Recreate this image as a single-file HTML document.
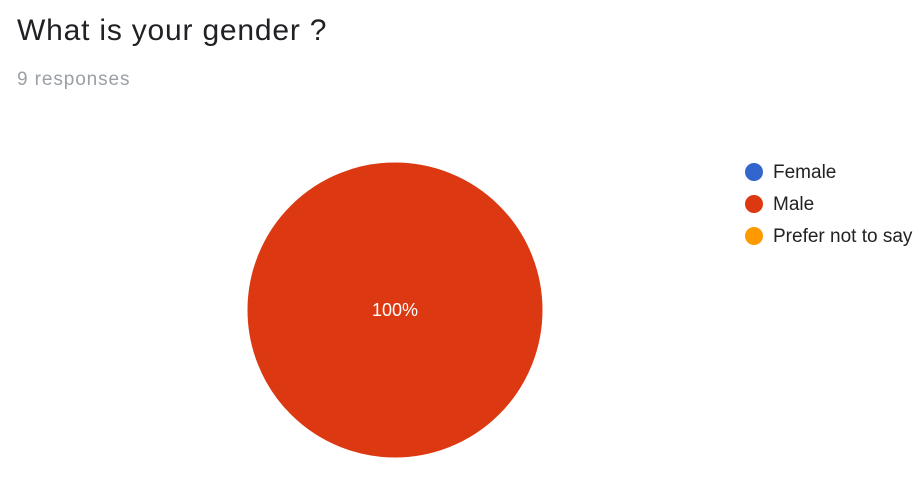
<!DOCTYPE html>
<html><head><meta charset="utf-8"><style>
body{margin:0;width:923px;height:493px;background:#fff;overflow:hidden;font-family:"Liberation Sans",sans-serif;position:relative}
#title{position:absolute;left:17px;top:14px;font-size:30px;color:#202124;font-weight:300;letter-spacing:0.8px}
#sub{position:absolute;left:17px;top:69px;font-size:19px;color:#9aa0a6;letter-spacing:0.9px}
svg{position:absolute;left:0;top:0}
</style></head><body>
<div id="title">What is your gender ?</div>
<div id="sub">9 responses</div>
<svg id="chart" width="923" height="493"></svg>
<script>
const categories=["Female","Male","Prefer not to say"];
const values=[0,9,0];
const colors=["#3366cc","#dc3912","#ff9900"];
const svg=document.getElementById('chart');
const NS="http://www.w3.org/2000/svg";
const cx=395,cy=310,r=148;
const total=values.reduce((a,b)=>a+b,0);
let ang=-Math.PI/2;
values.forEach((v,i)=>{
  if(v<=0)return;
  const frac=v/total;
  let el;
  if(frac>=0.9999){
    el=document.createElementNS(NS,'circle');
    el.setAttribute('cx',cx);el.setAttribute('cy',cy);el.setAttribute('r',r);
  }else{
    const a2=ang+frac*2*Math.PI;
    const x1=cx+r*Math.cos(ang),y1=cy+r*Math.sin(ang),x2=cx+r*Math.cos(a2),y2=cy+r*Math.sin(a2);
    el=document.createElementNS(NS,'path');
    el.setAttribute('d',`M${cx},${cy}L${x1},${y1}A${r},${r} 0 ${frac>0.5?1:0} 1 ${x2},${y2}Z`);
  }
  el.setAttribute('fill',colors[i]);el.setAttribute('stroke','#fff');el.setAttribute('stroke-width','1');
  
  
  svg.appendChild(el);
  const mid=ang+frac*Math.PI;
  const lr=frac>=0.9999?0:r*0.6;
  const t=document.createElementNS(NS,'text');
  t.setAttribute('x',cx+lr*Math.cos(mid));t.setAttribute('y',cy+lr*Math.sin(mid)+6);
  t.setAttribute('text-anchor','middle');t.setAttribute('fill','#fff');t.setAttribute('font-size','18');
  t.setAttribute('font-family','Liberation Sans, sans-serif');
  t.textContent=Math.round(frac*100)+'%';
  
  
  svg.appendChild(t);
  ang+=frac*2*Math.PI;
});
categories.forEach((c,i)=>{
  const y=172+i*32;
  const g=document.createElementNS(NS,'g');
  
  
  const ci=document.createElementNS(NS,'circle');
  ci.setAttribute('cx',754);ci.setAttribute('cy',y);ci.setAttribute('r',9);ci.setAttribute('fill',colors[i]);
  const t=document.createElementNS(NS,'text');
  t.setAttribute('x',773);t.setAttribute('y',y+6);t.setAttribute('font-size','19');
  t.setAttribute('fill','#222');t.setAttribute('font-family','Liberation Sans, sans-serif');
  t.textContent=c;
  g.appendChild(ci);g.appendChild(t);svg.appendChild(g);
});
</script>
</body></html>
